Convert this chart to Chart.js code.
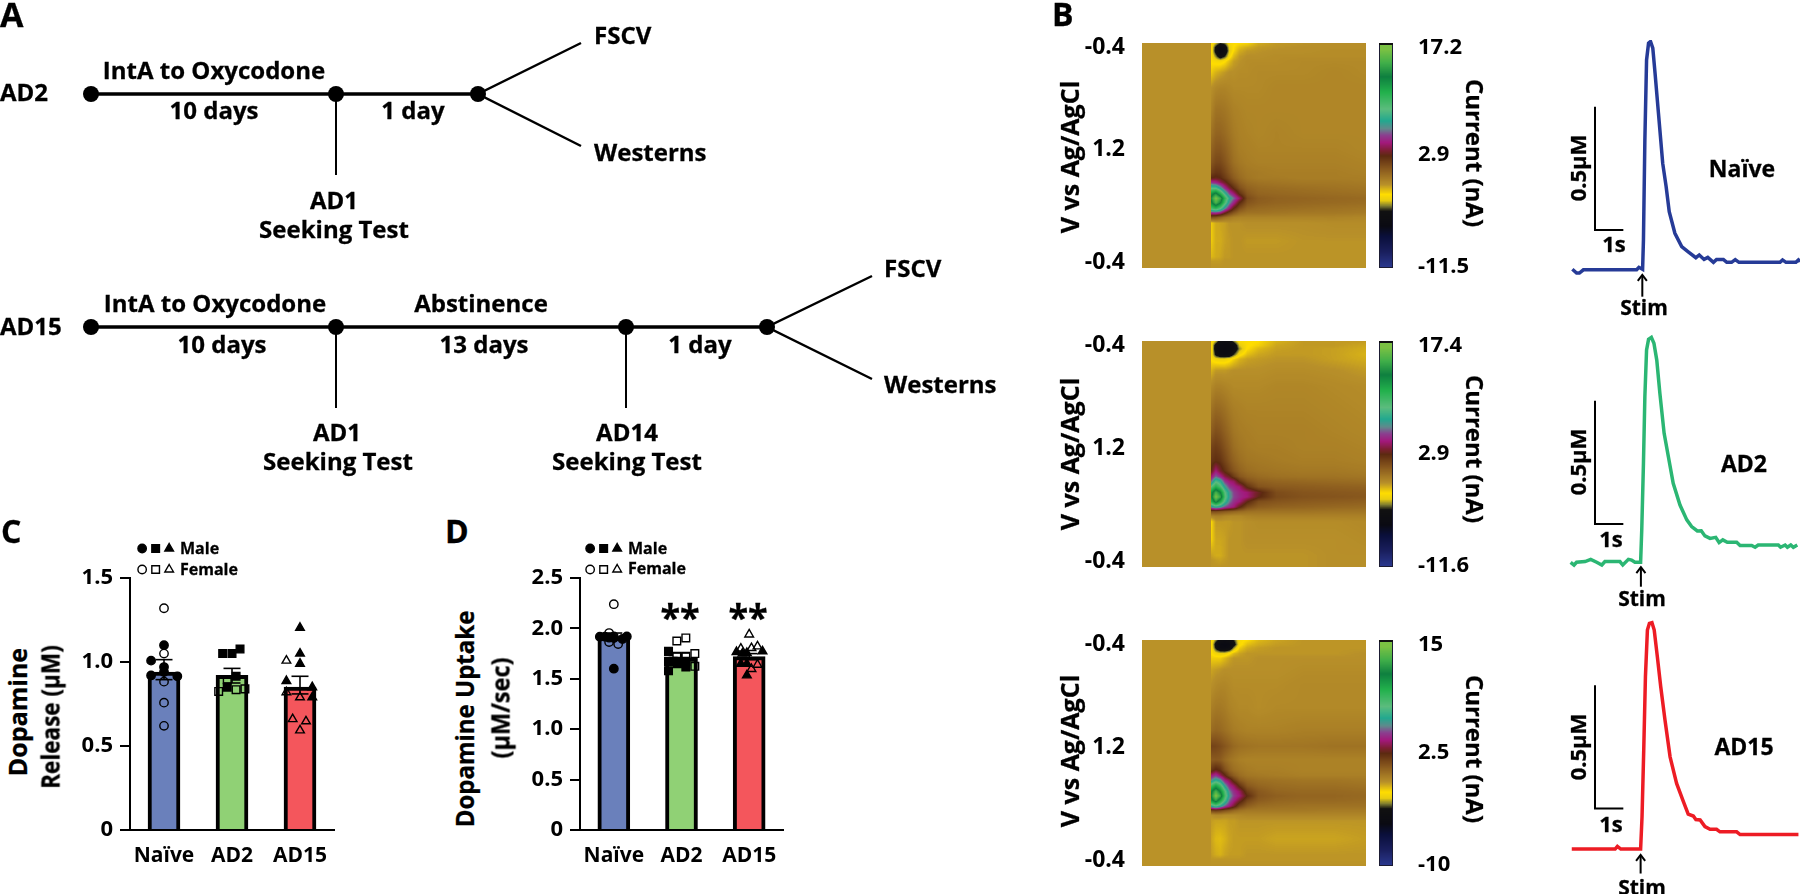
<!DOCTYPE html>
<html lang="en">
<head>
<meta charset="UTF-8">
<title>Dopamine release and uptake after oxycodone abstinence</title>
<script src="https://cdn.jsdelivr.net/npm/chart.js"></script>
<style>
    html, body { margin: 0; background: #fff; overflow: hidden; }
    #page { position: relative; width: 1800px; height: 894px; font-family: "Open Sans", sans-serif; font-weight: 700; color: #000; }
    #page canvas { position: absolute; }
    .lbl { position: absolute; white-space: nowrap; line-height: 1; -webkit-text-stroke: 0.3px #000; }
</style>
</head>
<body>
<div id="page"></div>
<script>
// ---- panel C and D values ----
const groups = ['Naïve', 'AD2', 'AD15'];
const barColors = ['#6a80bb', '#90d175', '#f4565c'];

const releaseMeans = [0.94, 0.92, 0.85];
const releaseErrLow = [0.895, 0.875, 0.81];
const releaseErrHigh = [1.014, 0.962, 0.915];
const releaseTicks = 0.5;

// [offset from the bar centre, value]
const releaseNaiveMale = [[0, 1.10], [-0.19, 1.008], [0, 0.97], [-0.19, 0.92], [0.196, 0.915], [0, 0.94]];
const releaseNaiveFemale = [[0, 1.32], [0, 1.05], [0, 0.883], [0, 0.758], [0, 0.62]];
const releaseAd2Male = [[-0.137, 1.05], [0, 1.05], [0.118, 1.077], [0.06, 0.915], [-0.07, 0.85]];
const releaseAd2Female = [[-0.196, 0.825], [0.06, 0.835], [0.19, 0.84], [-0.07, 0.895]];
const releaseAd15Male = [[0, 1.204], [0, 1.05], [0, 0.99], [-0.2, 0.887], [0.18, 0.85], [0.18, 0.79]];
const releaseAd15Female = [[-0.2, 1.008], [-0.2, 0.82], [0, 0.79], [-0.108, 0.66], [0.088, 0.647], [0, 0.593]];

const uptakeMeans = [1.92, 1.706, 1.72];
const uptakeErrLow = [1.885, 1.66, 1.69];
const uptakeErrHigh = [1.954, 1.756, 1.75];
const uptakeTicks = 0.5;

const uptakeNaiveMale = [[0, 1.60], [-0.207, 1.918], [0.192, 1.92], [-0.133, 1.918], [0.128, 1.895], [0, 1.905], [-0.07, 1.908]];
const uptakeNaiveFemale = [[0, 2.24], [-0.07, 1.954], [-0.07, 1.865], [0.064, 1.845], [0, 1.92]];
const uptakeAd2Male = [[-0.192, 1.772], [-0.192, 1.673], [-0.192, 1.58], [-0.06, 1.673], [0.064, 1.617], [0.064, 1.673], [-0.123, 1.673], [-0.06, 1.65]];
const uptakeAd2Female = [[-0.069, 1.875], [0.064, 1.905], [0.197, 1.75], [0.064, 1.723], [0.197, 1.624], [-0.069, 1.723]];
const uptakeAd15Male = [[-0.187, 1.766], [0.197, 1.772], [-0.034, 1.756], [-0.123, 1.65], [-0.034, 1.65], [-0.034, 1.534], [-0.1, 1.75]];
const uptakeAd15Female = [[0, 1.94], [-0.123, 1.8], [0.034, 1.805], [0.123, 1.822], [0.123, 1.64], [0.034, 1.597]];

// ---- panel B traces: seconds and µM ----
const naiveTime = [0, 0.15, 0.25, 0.39, 2.27, 2.35, 2.48, 2.51, 2.56, 2.62, 2.69, 2.76, 2.84, 2.92, 3.04, 3.19, 3.31, 3.42, 3.62, 3.86, 4.09, 4.36, 4.48, 4.65, 4.78, 4.98, 5.09, 5.33, 5.45, 5.62, 5.75, 5.88, 7.33, 7.42, 7.54, 7.89, 7.98, 8.04];
const naiveConc = [0.003, -0.012, -0.012, 0.001, 0.001, 0.011, 0.003, 0.122, 0.527, 0.851, 0.919, 0.926, 0.899, 0.797, 0.635, 0.432, 0.338, 0.236, 0.149, 0.095, 0.074, 0.05, 0.061, 0.043, 0.051, 0.031, 0.043, 0.043, 0.031, 0.031, 0.042, 0.031, 0.031, 0.041, 0.031, 0.031, 0.041, 0.034];

const ad2Time = [-0.06, 0.06, 0.15, 0.45, 0.65, 0.86, 1.04, 1.15, 1.68, 1.78, 1.98, 2.09, 2.21, 2.41, 2.45, 2.51, 2.56, 2.62, 2.69, 2.79, 2.88, 2.98, 3.09, 3.24, 3.39, 3.56, 3.8, 4.04, 4.21, 4.41, 4.55, 4.68, 4.86, 5.06, 5.18, 5.31, 5.47, 5.8, 5.92, 6.33, 6.45, 6.56, 7.27, 7.35, 7.51, 7.59, 7.71, 7.8, 7.94];
const ad2Conc = [0, -0.011, 0, 0.003, 0.012, 0, -0.011, 0.003, 0.003, -0.011, 0.012, 0.009, 0, 0, 0.131, 0.401, 0.672, 0.861, 0.904, 0.912, 0.888, 0.82, 0.685, 0.523, 0.428, 0.32, 0.232, 0.172, 0.145, 0.127, 0.128, 0.107, 0.097, 0.101, 0.08, 0.091, 0.081, 0.081, 0.068, 0.068, 0.061, 0.07, 0.07, 0.061, 0.07, 0.061, 0.07, 0.061, 0.07];

const ad15Time = [-0.02, 1.51, 1.59, 1.71, 2.41, 2.46, 2.52, 2.58, 2.65, 2.72, 2.81, 2.89, 3, 3.12, 3.27, 3.45, 3.68, 3.92, 4.09, 4.27, 4.36, 4.51, 4.68, 4.86, 5.09, 5.21, 5.8, 5.92, 7.98];
const ad15Conc = [0, 0, 0.011, 0, 0, 0.131, 0.401, 0.699, 0.888, 0.915, 0.918, 0.888, 0.78, 0.658, 0.523, 0.374, 0.266, 0.192, 0.142, 0.134, 0.12, 0.118, 0.091, 0.08, 0.08, 0.07, 0.07, 0.059, 0.059];

// ---- panel B colour plots, current in nA ----
const heatColPos = [0.31, 0.33, 0.35, 0.37, 0.39, 0.41, 0.435, 0.47, 0.52, 0.6, 0.72, 0.86, 1];
const heatRowPos = [0, 0.02, 0.035, 0.06, 0.08, 0.13, 0.2, 0.3, 0.4, 0.47, 0.53, 0.575, 0.6, 0.62, 0.645, 0.67, 0.69, 0.71, 0.735, 0.755, 0.775, 0.8, 0.88, 0.95, 0.97, 1];

const naiveCurrent = [
    [-2.2, -3, -4, -3.5, -2.4, -2.2, -2.1, -2, -1.3, -1, -.9, -.8, -.8],
    [-2.2, -4.5, -5.8, -5.2, -2.8, -2.1, -1.6, -1.3, -1, -.9, -.8, -.8, -.8],
    [-2.2, -4.8, -6.2, -5.6, -3, -2, -1.3, -1, -.9, -.8, -.8, -.7, -.7],
    [-2.2, -3.5, -5, -4, -2.4, -1.5, -1, -.8, -.8, -.7, -.7, -.7, -.7],
    [-2.2, -2.4, -2.5, -2.2, -1.6, -1.1, -.9, -.7, -.7, -.7, -.6, -.6, -.6],
    [-1.8, -1.4, -1.2, -1, -.8, -.8, -.7, -.7, -.6, -.6, -.6, -.5, -.6],
    [-.8, -.5, -.4, -.4, -.5, -.6, -.6, -.6, -.6, -.5, -.5, -.5, -.5],
    [-.4, .2, .2, .1, -.1, -.3, -.4, -.5, -.5, -.5, -.5, -.5, -.5],
    [.2, .7, .7, .5, .2, -.1, -.3, -.4, -.5, -.4, -.5, -.5, -.5],
    [.7, 1.2, 1.2, .9, .5, .1, -.2, -.3, -.4, -.4, -.4, -.4, -.5],
    [1.2, 1.7, 1.7, 1.3, .8, .3, 0, -.2, -.3, -.3, -.3, -.3, -.4],
    [1.9, 2.4, 2.3, 1.8, 1.2, .7, .3, 0, -.1, -.2, -.2, -.2, -.3],
    [2.8, 3, 2.8, 2.2, 1.6, 1, .5, .1, -.1, -.1, -.2, -.2, -.2],
    [5.2, 4.8, 4, 3.2, 2.3, 1.6, .9, .4, .2, .1, 0, 0, -.1],
    [8.5, 8.5, 7, 5, 3.6, 2.6, 1.5, .8, .5, .4, .3, .2, .1],
    [12, 13.5, 11, 8, 5.6, 4.4, 2.6, 1.2, .7, .6, .5, .4, .3],
    [13.5, 16.4, 14.5, 10.5, 7.5, 6, 4.2, 1.6, 1, .8, .7, .6, .5],
    [12.5, 15, 13, 9.5, 6.5, 4.8, 2.8, 1.3, .9, .7, .6, .5, .4],
    [9.5, 10.5, 9, 6.5, 4.5, 2.8, 1.5, .7, .5, .4, .3, .2, .1],
    [5, 5.2, 4.6, 3.2, 2, 1.2, .5, .2, .2, .1, 0, 0, -.1],
    [1.5, 1.3, .8, .3, 0, -.3, -.4, -.4, -.4, -.4, -.4, -.4, -.5],
    [-1.8, -1.3, -1.2, -1.1, -.9, -.9, -.9, -.8, -.8, -.8, -.8, -.7, -.7],
    [-1.8, -1.3, -1.3, -1.1, -1, -.9, -.9, -1, -1, -1, -.9, -.9, -.9],
    [-1.5, -1.3, -1.2, -1, -1, -.9, -.9, -.9, -.9, -.9, -.9, -.9, -.9],
    [-1, -1, -1, -.9, -.9, -.9, -.9, -.9, -.9, -.9, -.9, -.9, -.9],
    [-.9, -.9, -.9, -.9, -.9, -.9, -.9, -.9, -.9, -.9, -.9, -.9, -.9]
];
const ad2Current = [
    [-2.2, -3, -5, -5.4, -5, -3.5, -2.3, -2.2, -2.1, -1.4, -1, -1, -1],
    [-2.2, -5, -5.8, -6, -5.9, -5.5, -3, -2.2, -1.9, -1.2, -1, -1, -1.2],
    [-2.2, -5.2, -6, -6.2, -6, -5.6, -3.5, -2.1, -1.5, -1.1, -1, -1.1, -1.3],
    [-2.2, -4.5, -5.6, -5.8, -5.6, -4, -2.4, -1.6, -1.2, -1, -1, -1.1, -1.4],
    [-2.2, -2.6, -2.7, -2.7, -2.4, -1.9, -1.4, -1.1, -1, -.9, -.9, -1.1, -1.3],
    [-1.4, -1, -1, -1, -.9, -.8, -.8, -.8, -.8, -.7, -.7, -.8, -1],
    [-.6, -.3, -.3, -.4, -.5, -.6, -.6, -.6, -.6, -.5, -.5, -.6, -.7],
    [.2, .6, .5, .3, 0, -.2, -.3, -.4, -.4, -.4, -.4, -.5, -.6],
    [1, 1.5, 1.3, .9, .5, .1, -.1, -.2, -.3, -.3, -.3, -.4, -.5],
    [1.9, 2.2, 1.9, 1.4, .9, .4, .1, -.1, -.2, -.2, -.3, -.3, -.4],
    [2.4, 2.7, 2.5, 1.9, 1.3, .8, .4, .1, 0, -.1, -.2, -.2, -.3],
    [3, 4.5, 3.4, 2.6, 1.9, 1.3, .8, .4, .2, .1, 0, 0, -.1],
    [4.5, 6, 5, 3.8, 3.2, 2.2, 1.3, .8, .5, .3, .2, .2, .1],
    [6, 8.5, 7.5, 5.2, 4.4, 4.1, 2.5, 1.4, .9, .7, .6, .5, .4],
    [9, 11, 9.5, 7, 5.4, 4.9, 4.4, 2.6, 1.4, 1.1, 1, .9, .8],
    [12, 15, 13, 9, 6.8, 5.5, 4.9, 4.4, 3.2, 1.6, 1.3, 1.2, 1.1],
    [12.5, 16.6, 14.5, 9.5, 7, 5.6, 5, 4.5, 3, 1.7, 1.4, 1.3, 1.2],
    [11, 14, 11.5, 8.4, 6.3, 5.2, 4.6, 3, 1.6, 1.3, 1.1, 1, .9],
    [6.5, 7.5, 6.8, 5.6, 5, 4.5, 3, 1.6, 1, .8, .7, .6, .5],
    [1.5, 1.5, 1.3, 1.1, .9, .7, .5, .3, .2, .2, .2, .1, .1],
    [-.5, -.3, -.3, -.5, -.6, -.6, -.6, -.4, -.3, -.3, -.3, -.3, -.3],
    [-2, -1, -1, -1, -1, -.9, -.9, -.8, -.7, -.7, -.7, -.7, -.6],
    [-1.9, -1.2, -1.2, -1.1, -.9, -.9, -.9, -.8, -.8, -.8, -.8, -.8, -.7],
    [-1.1, -1.3, -1.3, -1.1, -.9, -.9, -.9, -.9, -.9, -.9, -.9, -.8, -.8],
    [-.9, -1, -1.1, -1, -.9, -.9, -.9, -.9, -.9, -.9, -.9, -.8, -.8],
    [-.9, -.9, -.9, -.9, -.9, -.9, -.9, -.9, -.9, -.9, -.9, -.8, -.8]
];
const ad15Current = [
    [-1.8, -3, -4.2, -4.6, -4.2, -3.5, -2, -1.8, -1.3, -1, -.8, -.8, -.8],
    [-1.8, -4.2, -5.2, -5.4, -5.2, -4.2, -2, -1.4, -1.1, -.9, -.8, -.8, -.8],
    [-1.8, -3.8, -5, -5.2, -4.8, -3, -1.6, -1.1, -.9, -.8, -.8, -.8, -.8],
    [-1.8, -2.2, -2.4, -2.4, -1.9, -1.3, -1, -.8, -.8, -.8, -.8, -.8, -.7],
    [-1.6, -1.6, -1.6, -1.3, -1, -.8, -.8, -.8, -.7, -.7, -.7, -.7, -.7],
    [-1, -.9, -.8, -.7, -.7, -.7, -.7, -.7, -.7, -.7, -.6, -.6, -.6],
    [-.7, -.5, -.4, -.4, -.5, -.6, -.6, -.6, -.6, -.6, -.5, -.5, -.5],
    [-.2, 0, 0, -.1, -.3, -.4, -.5, -.5, -.6, -.5, -.5, -.5, -.5],
    [.4, .6, .5, .3, .1, -.1, -.2, -.3, -.3, -.3, -.2, -.2, -.2],
    [1.7, 1.6, 1.4, 1.1, .8, .5, .3, .2, .1, .1, .1, .2, .2],
    [.9, 1, .9, .5, .2, 0, -.2, -.3, -.3, -.3, -.3, -.3, -.3],
    [2, 2.6, 2.2, 1.3, .7, .3, .1, -.1, -.2, -.2, -.3, -.3, -.3],
    [4, 4.6, 3.6, 2.6, 1.5, .9, .4, .1, 0, -.1, -.2, -.2, -.2],
    [5.5, 6.5, 5.8, 4, 3.3, 2, 1, .5, .3, .2, .1, .1, 0],
    [8.5, 10, 8.5, 6, 4.3, 3.6, 2.2, 1, .6, .4, .3, .3, .2],
    [11, 13, 11, 8, 5.5, 4.4, 3.6, 1.8, 1, .6, .5, .5, .4],
    [11.5, 14.5, 12.5, 8.5, 6, 4.7, 3.9, 2.4, 1.1, .8, .6, .6, .5],
    [10.5, 12.3, 10, 7.5, 5.2, 4.1, 3, 1.6, .9, .6, .5, .5, .4],
    [6.5, 7.5, 6.5, 5, 4, 3, 1.6, .8, .4, .3, .2, .2, .2],
    [1.6, 1.8, 1.6, 1.2, .9, .5, .2, 0, 0, 0, 0, -.1, -.1],
    [-.7, -.5, -.5, -.6, -.6, -.6, -.5, -.4, -.4, -.4, -.4, -.4, -.4],
    [-.9, -1, -1, -1, -.9, -.9, -.8, -.8, -.8, -.8, -.8, -.8, -.8],
    [-1, -1.3, -1.35, -1.2, -1, -.9, -.9, -.9, -.9, -1, -1, -1, -.9],
    [-.9, -1.1, -1.2, -1, -.9, -.9, -.9, -.8, -.8, -.8, -.8, -.8, -.8],
    [-.8, -.8, -.8, -.8, -.8, -.8, -.8, -.8, -.8, -.8, -.8, -.8, -.8],
    [-.75, -.75, -.75, -.75, -.75, -.75, -.75, -.75, -.75, -.75, -.75, -.75, -.75]
];

const heatTickPos = [0.018, 0.475, 0.975];
const heatTickLabels = ['-0.4', '1.2', '-0.4'];
const colorStops = [
    [0, '#2b3990'], [0.07, '#1a1f5e'], [0.141, '#0a0f3a'], [0.186, '#0a0a12'], [0.253, '#111111'], [0.275, '#7c7a30'],
    [0.3, '#e8cc10'], [0.327, '#ffdd00'], [0.371, '#b89029'], [0.438, '#8a5a1e'], [0.498, '#5c2a10'], [0.52, '#7a1f2f'],
    [0.557, '#a3187c'], [0.59, '#8a3f8f'], [0.62, '#5f8a8c'], [0.654, '#22a88f'], [0.706, '#5bbc7d'], [0.78, '#22b14c'],
    [0.85, '#0e7f3f'], [0.91, '#3fae49'], [0.97, '#7ac143'], [1, '#7ac143']
];

// ---- panel A schematic, in drawing units ----
const ad2Line = [[91, 94], [336, 94], [478, 94]];
const ad15Line = [[91, 327], [336, 327], [626, 327], [767, 327]];
const testLines = [[[336, 94], [336, 175]], [[336, 327], [336, 408]], [[626, 327], [626, 408]]];
const branchLines = [
    [[581, 43], [478, 94], [581, 146]],
    [[872, 276], [767, 327], [872, 379]]
];

const page = document.getElementById('page');
Chart.defaults.layout.autoPadding = false;

function addCanvas(left, top, width, height) {
    const c = document.createElement('canvas');
    c.width = width;
    c.height = height;
    c.style.left = left + 'px';
    c.style.top = top + 'px';
    c.style.width = width + 'px';
    c.style.height = height + 'px';
    page.appendChild(c);
    return c;
}

const boldFont = size => ({ family: '"Open Sans", sans-serif', weight: 'bold', size: size });
const basePlugins = { legend: { display: false }, tooltip: { enabled: false } };
const toXY = (xs, ys) => xs.map((x, i) => ({ x: x, y: ys[i] }));
const pairs = list => list.map(p => ({ x: p[0], y: p[1] }));

// Panel A
function schematicLine(points, width, radius) {
    return { data: pairs(points), showLine: true, borderColor: '#000', borderWidth: width, pointRadius: radius, pointBackgroundColor: '#000', pointBorderWidth: 0 };
}
new Chart(addCanvas(0, 0, 1040, 490), {
    type: 'scatter',
    data: {
        datasets: [
            schematicLine(ad2Line, 3.5, 8),
            schematicLine(ad15Line, 3.5, 8),
            ...testLines.map(l => schematicLine(l, 2, 0)),
            ...branchLines.map(l => schematicLine(l, 2.5, 0))
        ]
    },
    options: {
        responsive: false, animation: false, plugins: basePlugins,
        scales: { x: { display: false, min: 0, max: 1040 }, y: { display: false, min: 0, max: 490, reverse: true } }
    }
});

// Panel C and D
const markerRadius = { circle: 4.2, rect: 5.4, triangle: 5 };
function markerSet(groupIdx, points, style, filled) {
    return {
        type: 'scatter', xAxisID: 'x2', yAxisID: 'y', order: 1,
        data: points.map(p => ({ x: groupIdx + p[0], y: p[1] })),
        pointStyle: style, pointRadius: markerRadius[style], pointBorderWidth: 1.4, pointBorderColor: '#000',
        pointBackgroundColor: filled ? '#000' : 'transparent'
    };
}
function errorSet(i, low, high) {
    return {
        type: 'scatter', xAxisID: 'x2', yAxisID: 'y', order: 2, showLine: true,
        data: [{ x: i, y: low }, { x: i, y: high }],
        borderColor: '#000', borderWidth: 1.6, pointStyle: 'line', pointRadius: 8.5, pointBorderWidth: 1.6
    };
}
function barPanel(cfg) {
    const datasets = [{
        type: 'bar', xAxisID: 'x', yAxisID: 'y',
        data: cfg.means, backgroundColor: barColors, borderColor: '#000', borderWidth: 4,
        borderSkipped: 'bottom', barThickness: 32, grouped: false, order: 3
    }];
    groups.forEach((g, i) => datasets.push(errorSet(i, cfg.low[i], cfg.high[i])));
    cfg.sets.forEach(s => datasets.push(markerSet(s[0], s[1], s[2], s[3])));
    new Chart(addCanvas(cfg.left, 530, cfg.width, 340), {
        data: { labels: groups, datasets: datasets },
        type: 'bar',
        options: {
            responsive: false, animation: false, plugins: basePlugins,
            layout: { padding: { top: 48, right: cfg.padRight } },
            scales: {
                x: {
                    type: 'category', offset: true,
                    grid: { display: false }, border: { color: '#000', width: 2 },
                    ticks: { color: '#000', font: boldFont(21), padding: 5, maxRotation: 0, autoSkip: false },
                    afterFit: s => { s.height = 40; }
                },
                x2: { type: 'linear', display: false, min: -0.5, max: 2.5, offset: false, grid: { offset: false } },
                y: {
                    min: 0, max: cfg.max,
                    grid: { drawOnChartArea: false, color: '#000', lineWidth: 2, tickLength: 10 },
                    border: { color: '#000', width: 2 },
                    ticks: { stepSize: cfg.step, color: '#000', font: boldFont(22), padding: 7, callback: v => v === 0 ? '0' : v.toFixed(1) },
                    afterFit: s => { s.width = cfg.axisWidth; }
                }
            }
        }
    });
    // sex key above the axis: marker column, row
    const keySets = [];
    ['circle', 'rect', 'triangle'].forEach((style, i) => {
        [0, 1].forEach(row => {
            keySets.push({
                data: [{ x: i, y: row }], pointStyle: style, pointRadius: markerRadius[style], pointBorderWidth: 1.4,
                pointBorderColor: '#000', pointBackgroundColor: row === 0 ? '#000' : 'transparent'
            });
        });
    });
    new Chart(addCanvas(cfg.keyLeft, 538, 50, 42), {
        type: 'scatter',
        data: { datasets: keySets },
        options: {
            responsive: false, animation: false, plugins: basePlugins,
            scales: { x: { display: false, min: -0.75, max: 2.95 }, y: { display: false, min: -0.5, max: 1.5, reverse: true } }
        }
    });
}
barPanel({
    left: 60, width: 300, padRight: 26, axisWidth: 70, max: 1.5, step: releaseTicks, keyLeft: 132,
    means: releaseMeans, low: releaseErrLow, high: releaseErrHigh,
    sets: [
        [0, releaseNaiveFemale, 'circle', false], [0, releaseNaiveMale, 'circle', true],
        [1, releaseAd2Female, 'rect', false], [1, releaseAd2Male, 'rect', true],
        [2, releaseAd15Female, 'triangle', false], [2, releaseAd15Male, 'triangle', true]
    ]
});
barPanel({
    left: 510, width: 300, padRight: 27, axisWidth: 70, max: 2.5, step: uptakeTicks, keyLeft: 580,
    means: uptakeMeans, low: uptakeErrLow, high: uptakeErrHigh,
    sets: [
        [0, uptakeNaiveFemale, 'circle', false], [0, uptakeNaiveMale, 'circle', true],
        [1, uptakeAd2Female, 'rect', false], [1, uptakeAd2Male, 'rect', true],
        [2, uptakeAd15Female, 'triangle', false], [2, uptakeAd15Male, 'triangle', true]
    ]
});

// Panel B colour plots
const colorTable = [];
(function () {
    const hex = s => [parseInt(s.slice(1, 3), 16), parseInt(s.slice(3, 5), 16), parseInt(s.slice(5, 7), 16)];
    for (let i = 0; i <= 1000; i++) {
        const p = i / 1000;
        let k = 0;
        while (k < colorStops.length - 2 && p > colorStops[k + 1][0]) k++;
        const a = colorStops[k], b = colorStops[k + 1];
        const t = Math.min(1, Math.max(0, (p - a[0]) / (b[0] - a[0])));
        const ca = hex(a[1]), cb = hex(b[1]);
        colorTable.push([0, 1, 2].map(j => ca[j] + (cb[j] - ca[j]) * t));
    }
})();
const colorFor = p => colorTable[Math.round(Math.min(1, Math.max(0, p)) * 1000)];

function findCell(list, v) {
    let i = 0;
    while (i < list.length - 2 && v > list[i + 1]) i++;
    return i;
}

const heatPlugin = {
    id: 'heat',
    beforeDatasetsDraw(chart, args, opts) {
        const { ctx, chartArea: a, scales: { x, y } } = chart;
        const w = Math.round(a.right - a.left), h = Math.round(a.bottom - a.top);
        const img = ctx.createImageData(w, h);
        const range = opts.max - opts.min;
        for (let py = 0; py < h; py++) {
            const v = y.getValueForPixel(a.top + py + 0.5);
            const r = findCell(heatRowPos, v);
            const tr = (v - heatRowPos[r]) / (heatRowPos[r + 1] - heatRowPos[r]);
            for (let px = 0; px < w; px++) {
                const u = x.getValueForPixel(a.left + px + 0.5);
                let val = opts.preStim;
                if (u >= heatColPos[0]) {
                    const c = findCell(heatColPos, u);
                    const tc = (u - heatColPos[c]) / (heatColPos[c + 1] - heatColPos[c]);
                    const top = opts.cells[r][c] * (1 - tc) + opts.cells[r][c + 1] * tc;
                    const bot = opts.cells[r + 1][c] * (1 - tc) + opts.cells[r + 1][c + 1] * tc;
                    val = top * (1 - tr) + bot * tr;
                }
                const col = colorFor((val - opts.min) / range);
                const o = (py * w + px) * 4;
                img.data[o] = col[0];
                img.data[o + 1] = col[1];
                img.data[o + 2] = col[2];
                img.data[o + 3] = 255;
            }
        }
        ctx.putImageData(img, a.left, a.top);
    }
};

const colorbarPlugin = {
    id: 'colorbar',
    beforeDatasetsDraw(chart) {
        const { ctx, chartArea: a, scales: { y } } = chart;
        for (let py = Math.round(a.top); py < a.bottom; py++) {
            const col = colorFor((y.getValueForPixel(py + 0.5) - y.min) / (y.max - y.min));
            ctx.fillStyle = `rgb(${col[0]},${col[1]},${col[2]})`;
            ctx.fillRect(a.left, py, a.right - a.left, 1);
        }
        ctx.strokeStyle = '#1b1b33';
        ctx.lineWidth = 1;
        ctx.strokeRect(a.left + 0.5, a.top + 0.5, a.right - a.left - 1, a.bottom - a.top - 1);
        ctx.fillStyle = '#111';
        ctx.fillRect(a.left, a.top, a.right - a.left, 2);
    }
};

// scale padding would shrink the plot to make room for the end labels
const noEndPadding = s => { s.paddingTop = 0; s.paddingBottom = 0; };

function heatPanel(top, cells, preStim, max, min, barTicks, barLabels, height) {
    new Chart(addCanvas(1055, top - 14, 311, height + 28), {
        type: 'scatter',
        data: { datasets: [] },
        options: {
            responsive: false, animation: false,
            plugins: { ...basePlugins, heat: { cells: cells, preStim: preStim, max: max, min: min } },
            layout: { padding: { top: 14, bottom: 14 } },
            scales: {
                x: { display: false, min: 0, max: 1 },
                y: {
                    min: 0, max: 1, reverse: true,
                    grid: { display: false }, border: { display: false },
                    afterBuildTicks: s => { s.ticks = heatTickPos.map(v => ({ value: v })); },
                    ticks: { color: '#000', font: boldFont(23), padding: 9, autoSkip: false, callback: (v, i) => heatTickLabels[i] },
                    afterFit: s => { s.width = 87; noEndPadding(s); }
                }
            }
        },
        plugins: [heatPlugin]
    });
    new Chart(addCanvas(1379, top - 14, 92, height + 28), {
        type: 'scatter',
        data: { datasets: [] },
        options: {
            responsive: false, animation: false, plugins: basePlugins,
            layout: { padding: { top: 14, bottom: 14 } },
            scales: {
                x: { display: false, min: 0, max: 1 },
                y: {
                    position: 'right', min: min, max: max,
                    grid: { display: false }, border: { display: false },
                    afterBuildTicks: s => { s.ticks = barTicks.map(v => ({ value: v })); },
                    ticks: { color: '#000', font: boldFont(22), padding: 17, autoSkip: false, callback: (v, i) => barLabels[i] },
                    afterFit: s => { s.width = 78; noEndPadding(s); }
                }
            }
        },
        plugins: [colorbarPlugin]
    });
}
heatPanel(43, naiveCurrent, -0.85, 17.2, -11.5, [16.6, 2.9, -11.4], ['17.2', '2.9', '-11.5'], 225);
heatPanel(341, ad2Current, -0.85, 17.4, -11.6, [16.8, 2.9, -11.5], ['17.4', '2.9', '-11.6'], 226);
heatPanel(640, ad15Current, -0.75, 15, -10, [14.5, 2.5, -9.9], ['15', '2.5', '-10'], 226);

// Panel B traces
function tracePanel(top, height, times, conc, color, yMax, yMin, barTop, barBottom, stimX, stimLow, stimHigh) {
    const plain = (data, width, c) => ({ data: data, showLine: true, borderColor: c, borderWidth: width, pointRadius: 0 });
    new Chart(addCanvas(1540, top, 260, height), {
        type: 'scatter',
        data: {
            datasets: [
                plain(toXY(times, conc), 3.5, color),
                plain([{ x: 0.8, y: barTop }, { x: 0.8, y: barBottom }, { x: 1.8, y: barBottom }], 2, '#000'),
                plain([{ x: stimX, y: stimLow }, { x: stimX, y: stimHigh }], 2, '#000'),
                plain([{ x: stimX - 0.16, y: stimHigh - 0.024 }, { x: stimX, y: stimHigh }, { x: stimX + 0.16, y: stimHigh - 0.024 }], 2, '#000')
            ]
        },
        options: {
            responsive: false, animation: false, plugins: basePlugins,
            scales: { x: { display: false, min: -1.141, max: 8.035 }, y: { display: false, min: yMin, max: yMax } }
        }
    });
}
tracePanel(40, 290, naiveTime, naiveConc, '#263b97', 0.932, -0.243, 0.662, 0.162, 2.47, -0.108, -0.02);
tracePanel(330, 290, ad2Time, ad2Conc, '#2bb673', 0.942, -0.234, 0.655, 0.155, 2.42, -0.099, -0.02);
tracePanel(610, 284, ad15Time, ad15Conc, '#ed1c24', 0.969, -0.182, 0.664, 0.165, 2.41, -0.099, -0.024);

// All the free text: [text, x, y, size, anchor, rotation, squeeze]
const pageLabels = [
    ['A', 0, 14, 34, 'l'], ['B', 1052, 14, 32, 'l'], ['C', 1, 531, 32, 'l'], ['D', 445, 531, 32, 'l'],
    ['AD2', 0, 92, 24, 'l'], ['IntA to Oxycodone', 214, 70, 24], ['10 days', 214, 110, 24], ['1 day', 413, 110, 24],
    ['FSCV', 594, 35, 24, 'l'], ['Westerns', 594, 152, 24, 'l'], ['AD1', 334, 200, 24], ['Seeking Test', 334, 229, 24],
    ['AD15', 0, 326, 24, 'l'], ['IntA to Oxycodone', 215, 303, 24], ['10 days', 222, 344, 24], ['Abstinence', 481, 303, 24],
    ['13 days', 484, 344, 24], ['1 day', 700, 344, 24], ['FSCV', 884, 268, 24, 'l'], ['Westerns', 884, 384, 24, 'l'],
    ['AD1', 337, 432, 24], ['Seeking Test', 338, 461, 24], ['AD14', 627, 432, 24], ['Seeking Test', 627, 461, 24],
    ['Male', 180, 548, 16, 'l'], ['Female', 180, 569, 16, 'l'], ['Male', 628, 548, 16, 'l'], ['Female', 628, 568, 16, 'l'],
    ['Dopamine', 17, 712, 25, 'c', -90], ['Release (µM)', 50, 717, 25, 'c', -90, 0.9],
    ['Dopamine Uptake', 464, 719, 25, 'c', -90, 0.96], ['(µM/sec)', 500, 708, 25, 'c', -90, 0.94],
    ['**', 680, 617, 36], ['**', 748, 617, 36],
    ['V vs Ag/AgCl', 1069, 157, 25, 'c', -90], ['V vs Ag/AgCl', 1069, 454, 25, 'c', -90], ['V vs Ag/AgCl', 1069, 751, 25, 'c', -90],
    ['Current (nA)', 1475, 153, 24, 'c', 90], ['Current (nA)', 1475, 449, 24, 'c', 90], ['Current (nA)', 1475, 749, 24, 'c', 90],
    ['0.5µM', 1577, 168, 22, 'c', -90], ['1s', 1614, 243, 22], ['Stim', 1644, 307, 21], ['Naïve', 1742, 168, 23],
    ['0.5µM', 1577, 462, 22, 'c', -90], ['1s', 1611, 538, 22], ['Stim', 1642, 598, 21], ['AD2', 1744, 463, 23],
    ['0.5µM', 1577, 747, 22, 'c', -90], ['1s', 1611, 823, 22], ['Stim', 1642, 887, 21], ['AD15', 1744, 746, 23]
];
pageLabels.forEach(l => {
    const el = document.createElement('div');
    el.className = 'lbl';
    el.textContent = l[0];
    el.style.left = l[1] + 'px';
    el.style.top = l[2] + 'px';
    el.style.fontSize = l[3] + 'px';
    el.style.transform = `translate(${l[4] === 'l' ? '0' : '-50%'}, -50%) rotate(${l[5] || 0}deg) scaleX(${l[6] || 1})`;
    page.appendChild(el);
});
</script>
</body>
</html>
